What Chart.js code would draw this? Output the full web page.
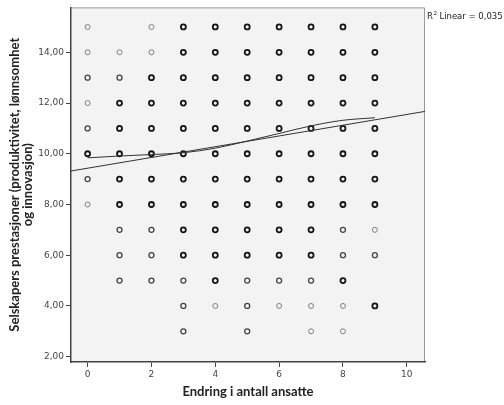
<!DOCTYPE html>
<html>
<head>
<meta charset="utf-8">
<script src="https://cdn.jsdelivr.net/npm/chart.js@4.4.1/dist/chart.umd.min.js"></script>
<style>
  body { margin: 0; background: #fff; }
</style>
</head>
<body>
<canvas id="chart" width="504" height="405"></canvas>
<script>
// points grouped by how dark SPSS drew them (overlap count), as [x, y] pairs
let boldPoints = [
  [0, 10],
  [1, 12], [1, 11], [1, 10], [1, 9], [1, 8],
  [2, 13], [2, 12], [2, 11], [2, 10], [2, 9], [2, 8],
  [3, 15], [3, 14], [3, 13], [3, 12], [3, 11], [3, 10], [3, 9], [3, 8], [3, 7], [3, 6],
  [4, 15], [4, 14], [4, 13], [4, 12], [4, 11], [4, 10], [4, 9], [4, 8], [4, 7], [4, 6], [4, 5],
  [5, 15], [5, 14], [5, 13], [5, 12], [5, 11], [5, 10], [5, 9], [5, 8], [5, 7], [5, 6],
  [6, 15], [6, 14], [6, 13], [6, 12], [6, 11], [6, 10], [6, 9], [6, 8], [6, 7], [6, 6],
  [7, 15], [7, 14], [7, 13], [7, 12], [7, 11], [7, 10], [7, 9], [7, 8], [7, 7], [7, 6],
  [8, 15], [8, 14], [8, 13], [8, 12], [8, 11], [8, 10], [8, 9], [8, 8], [8, 5],
  [9, 15], [9, 14], [9, 13], [9, 12], [9, 11], [9, 10], [9, 9], [9, 8], [9, 4]
]
let mediumPoints = [
  [0, 13], [0, 11], [0, 9],
  [1, 13], [1, 7], [1, 6], [1, 5],
  [2, 7], [2, 6], [2, 5],
  [3, 5], [3, 4], [3, 3],
  [5, 5], [5, 4], [5, 3],
  [6, 5],
  [7, 5],
  [8, 7], [8, 6],
  [9, 6]
]
let lightPoints = [
  [0, 15], [0, 14], [0, 12], [0, 8],
  [1, 14],
  [2, 15], [2, 14],
  [4, 4],
  [6, 4],
  [7, 4], [7, 3],
  [8, 4], [8, 3],
  [9, 7]
]

// loess fit line
let loessX = [0, 1, 2, 3, 4, 5, 6, 7, 8, 9]
let loessY = [9.84, 9.91, 9.97, 10.04, 10.22, 10.5, 10.8, 11.1, 11.32, 11.42]

// linear fit, drawn edge to edge of the plot
let linearX = [-0.52, 10.57]
let linearY = [9.32, 11.67]

let xTicks = [0, 2, 4, 6, 8, 10]
let yTicks = [2, 4, 6, 8, 10, 12, 14]

let rSquaredText = 'Linear = 0,035'

let toXY = function(pairs) {
  return pairs.map(p => ({ x: p[0], y: p[1] }))
}

// plugin that paints the grey plot box and the R² note
let plotBox = {
  id: 'plotBox',
  beforeDraw: function(chart) {
    let c = chart.ctx
    let a = chart.chartArea
    c.save()
    c.fillStyle = '#f3f3f3'
    c.fillRect(a.left, a.top, a.right - a.left, a.bottom - a.top)
    c.strokeStyle = '#9a9a9a'
    c.lineWidth = 1
    c.beginPath()
    c.moveTo(a.left, a.top + 0.5)
    c.lineTo(a.right - 0.5, a.top + 0.5)
    c.lineTo(a.right - 0.5, a.bottom)
    c.stroke()
    c.restore()
  },
  afterDraw: function(chart) {
    let c = chart.ctx
    let a = chart.chartArea
    c.save()
    c.fillStyle = '#222'
    c.textBaseline = 'alphabetic'
    c.font = '8.5px "DejaVu Sans"'
    let x = a.right + 2
    let y = a.top + 12
    c.fillText('R', x, y)
    x += c.measureText('R').width
    c.font = '5.5px "DejaVu Sans"'
    c.fillText('2', x + 0.5, y - 4)
    x += 6.5
    c.font = '8.5px "DejaVu Sans"'
    c.fillText(rSquaredText, x, y)
    c.restore()
  }
}

let elCanvas = document.getElementById('chart')
let ctx = elCanvas.getContext('2d')

let chart = new Chart(ctx, {
  type: 'scatter',
  data: {
    datasets: [
      {
        type: 'line',
        label: 'Linear',
        data: linearX.map((x, i) => ({ x: x, y: linearY[i] })),
        borderColor: '#333',
        borderWidth: 1,
        pointRadius: 0,
        fill: false
      },
      {
        type: 'line',
        label: 'Loess',
        data: loessX.map((x, i) => ({ x: x, y: loessY[i] })),
        borderColor: '#333',
        borderWidth: 1,
        pointRadius: 0,
        cubicInterpolationMode: 'monotone',
        fill: false
      },
      {
        label: 'bold',
        data: toXY(boldPoints),
        pointRadius: 2.5,
        pointBorderWidth: 1.8,
        borderColor: '#151515',
        backgroundColor: 'rgba(0,0,0,0)'
      },
      {
        label: 'medium',
        data: toXY(mediumPoints),
        pointRadius: 2.5,
        pointBorderWidth: 1.3,
        borderColor: '#444',
        backgroundColor: 'rgba(0,0,0,0)'
      },
      {
        label: 'light',
        data: toXY(lightPoints),
        pointRadius: 2.5,
        pointBorderWidth: 1,
        borderColor: '#808080',
        backgroundColor: 'rgba(0,0,0,0)'
      }
    ]
  },
  options: {
    responsive: false,
    animation: false,
    layout: { padding: { left: 0, right: 79, top: 7, bottom: 0 } },
    plugins: {
      legend: { display: false },
      tooltip: { enabled: false }
    },
    scales: {
      x: {
        type: 'linear',
        min: -0.52,
        max: 10.57,
        afterFit: function(s) { s.height = 43 },
        afterBuildTicks: function(s) { s.ticks = xTicks.map(v => ({ value: v })) },
        ticks: {
          font: { family: 'DejaVu Sans', size: 9 },
          color: '#444',
          padding: 2,
          maxRotation: 0
        },
        grid: { drawOnChartArea: false, drawTicks: true, tickLength: 5, color: '#444' },
        border: { display: true, color: '#444', width: 1.5 },
        title: {
          display: true,
          text: 'Endring i antall ansatte',
          font: { family: 'Lato', size: 13, weight: 'bold', lineHeight: 1 },
          color: '#222',
          padding: { top: 0, bottom: 7 }
        }
      },
      y: {
        type: 'linear',
        min: 1.79,
        max: 15.77,
        afterFit: function(s) { s.width = 71 },
        afterBuildTicks: function(s) { s.ticks = yTicks.map(v => ({ value: v })) },
        ticks: {
          font: { family: 'DejaVu Sans', size: 9 },
          color: '#444',
          padding: 2,
          callback: function(v) { return v.toFixed(2).replace('.', ',') }
        },
        grid: { drawOnChartArea: false, drawTicks: true, tickLength: 5, color: '#444' },
        border: { display: true, color: '#444', width: 1.5 },
        title: {
          display: true,
          text: ['Selskapers prestasjoner (produktivitet, lønnsomhet', 'og innovasjon)'],
          font: { family: 'Lato', size: 13, weight: 'bold', lineHeight: 0.95 },
          color: '#222',
          padding: { top: 9, bottom: 0 }
        }
      }
    }
  },
  plugins: [plotBox]
})
</script>
</body>
</html>
